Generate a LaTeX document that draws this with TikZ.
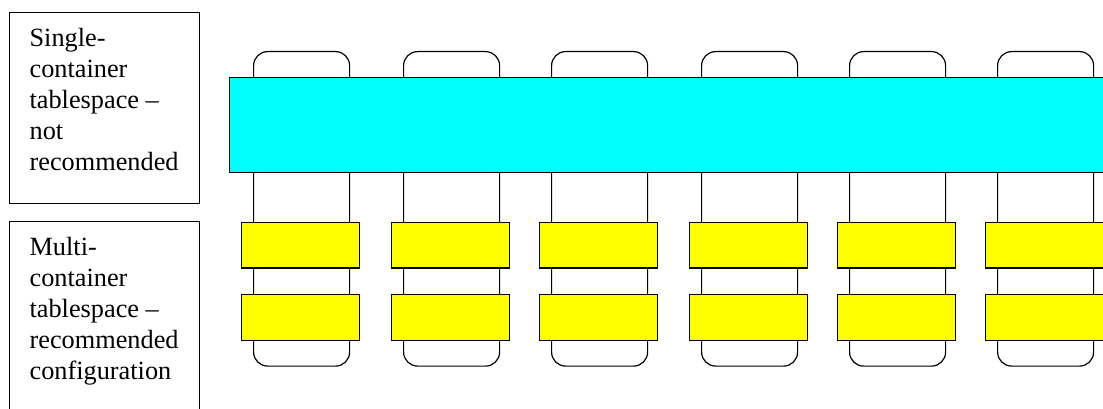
\documentclass[tikz,border=0pt]{standalone}
\usepackage{fontspec}
\setmainfont{Liberation Serif}
\definecolor{tscyan}{RGB}{0,255,255}
\definecolor{tsyellow}{RGB}{255,255,0}

\begin{document}
\begin{tikzpicture}[x=1pt, y=-1pt, line width=1.2pt,
  every node/.style={inner sep=0pt},
  frame/.style={draw, anchor=north west, inner xsep=20pt, inner ysep=16pt, font=\rmfamily\fontsize{26.3}{31}\selectfont},
  container/.style={draw, rounded corners=14pt, anchor=north west, minimum width=96pt, minimum height=314.5pt},
  band/.style={draw, fill=tscyan, anchor=north west, minimum width=900pt, minimum height=94.4pt},
  stripe/.style={draw, fill=tsyellow, anchor=north west, minimum width=118pt, minimum height=45.8pt}]
\clip (0,0) rectangle (1103,409);
\node (single) [frame] at (9,11.7) {\parbox[t][159pt][t]{150pt}{\raggedright Single-\\container\\tablespace --\\not\\recommended}};
\node (multi) [frame] at (9,221) {\parbox[t][159pt][t]{150pt}{\raggedright Multi-\\container\\tablespace --\\recommended\\configuration}};
% containers behind the tablespaces
\foreach \x [count=\i] in {253,403,551,701,849,997}
  \node (cont\i) [container] at (\x,51) {};
\node (band) [band] at (229,77.3) {};
\foreach \x [count=\i] in {253,403,551,701,849,997} {
  \node (upper\i) [stripe] at (\x-12,221.5) {};
  \node (lower\i) [stripe] at (\x-12,293.8) {};
}
\end{tikzpicture}
\end{document}
